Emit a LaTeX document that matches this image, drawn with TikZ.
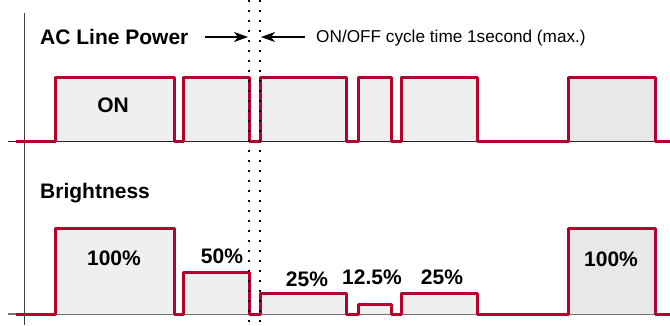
\documentclass[tikz,border=0pt]{standalone}
\usepackage{fontspec}
\setmainfont{Liberation Sans}
\usetikzlibrary{arrows.meta}
\definecolor{wave}{RGB}{182,0,46}
\definecolor{pulsefill}{RGB}{239,239,239}
\definecolor{pulsedark}{RGB}{232,232,232}
\tikzset{
  wavepath/.style={draw=wave, line width=3pt, line join=round},
  bigtxt/.style={font=\fontsize{21}{25}\selectfont\bfseries, inner sep=0pt},
  smalltxt/.style={font=\fontsize{17.2}{20}\selectfont, inner sep=0pt},
  marker/.style={black, line width=1.6pt, dash pattern=on 1.6pt off 8.4pt, line cap=butt},
  timearrow/.style={-{Stealth[length=14pt,width=10pt,inset=4pt]}, line width=1.5pt}
}
\begin{document}
\begin{tikzpicture}[x=1pt, y=-1pt]
  \useasboundingbox (0,0) rectangle (670,325);
  % 坐标轴
  \draw[black!75, line width=0.9pt] (24,13) -- (24,325);
  \draw[black!85, line width=1pt] (8,141) -- (670,141);
  \draw[black!55, line width=2pt] (8,314) -- (670,314);
  % 上方脉冲底色
  \foreach \a/\b in {55/174, 183/249, 260/346, 358/391, 401/477}
    \fill[pulsefill] (\a,77) rectangle (\b,141);
  \fill[pulsedark] (568,77) rectangle (655,141);
  % 下方脉冲底色
  \foreach \a/\b/\h in {55/174/228, 183/249/272, 260/346/293, 358/391/304, 401/477/293}
    \fill[pulsefill] (\a,\h) rectangle (\b,314);
  \fill[pulsedark] (568,228) rectangle (655,314);
  % 交流电源波形
  \draw[wavepath] (16,141) -- (55,141) -- (55,77) -- (174,77) -- (174,141)
    -- (183,141) -- (183,77) -- (249,77) -- (249,141) -- (260,141) -- (260,77)
    -- (346,77) -- (346,141) -- (358,141) -- (358,77) -- (391,77) -- (391,141)
    -- (401,141) -- (401,77) -- (477,77) -- (477,141) -- (568,141) -- (568,77)
    -- (655,77) -- (655,141) -- (670,141);
  % 亮度波形
  \draw[wavepath] (16,314) -- (55,314) -- (55,228) -- (174,228) -- (174,314)
    -- (183,314) -- (183,272) -- (249,272) -- (249,314) -- (260,314) -- (260,293)
    -- (346,293) -- (346,314) -- (358,314) -- (358,304) -- (391,304) -- (391,314)
    -- (401,314) -- (401,293) -- (477,293) -- (477,314) -- (568,314) -- (568,228)
    -- (655,228) -- (655,314) -- (670,314);
  % 周期标记虚线
  \coordinate (dotLtop) at (249,0);
  \coordinate (dotLbot) at (249,325);
  \coordinate (dotRtop) at (260,0);
  \coordinate (dotRbot) at (260,325);
  \draw[marker] (dotLtop) -- (dotLbot);
  \draw[marker] (dotRtop) -- (dotRbot);
  % 文字
  \node[bigtxt, anchor=west] (acpow) at (40,37) {AC Line Power};
  \node[smalltxt, anchor=west] (cycle) at (316,38) {ON/OFF cycle time 1second (max.)};
  \node[bigtxt] (on) at (113,105) {ON};
  \node[bigtxt, anchor=west] (bright) at (40,193) {Brightness};
  \node[bigtxt] (full1) at (114,258) {100\%};
  \node[bigtxt] (half) at (222,256) {50\%};
  \node[bigtxt] (quart1) at (307,279) {25\%};
  \node[bigtxt] (eighth) at (372,277) {12.5\%};
  \node[bigtxt] (quart2) at (442,277) {25\%};
  \node[bigtxt] (full2) at (611,259) {100\%};
  % 周期箭头
  \coordinate (arrL) at (205,37);
  \coordinate (tipL) at (248,37);
  \coordinate (arrR) at (305,37);
  \coordinate (tipR) at (261,37);
  \draw[timearrow] (arrL) -- (tipL);
  \draw[timearrow] (arrR) -- (tipR);
\end{tikzpicture}
\end{document}
